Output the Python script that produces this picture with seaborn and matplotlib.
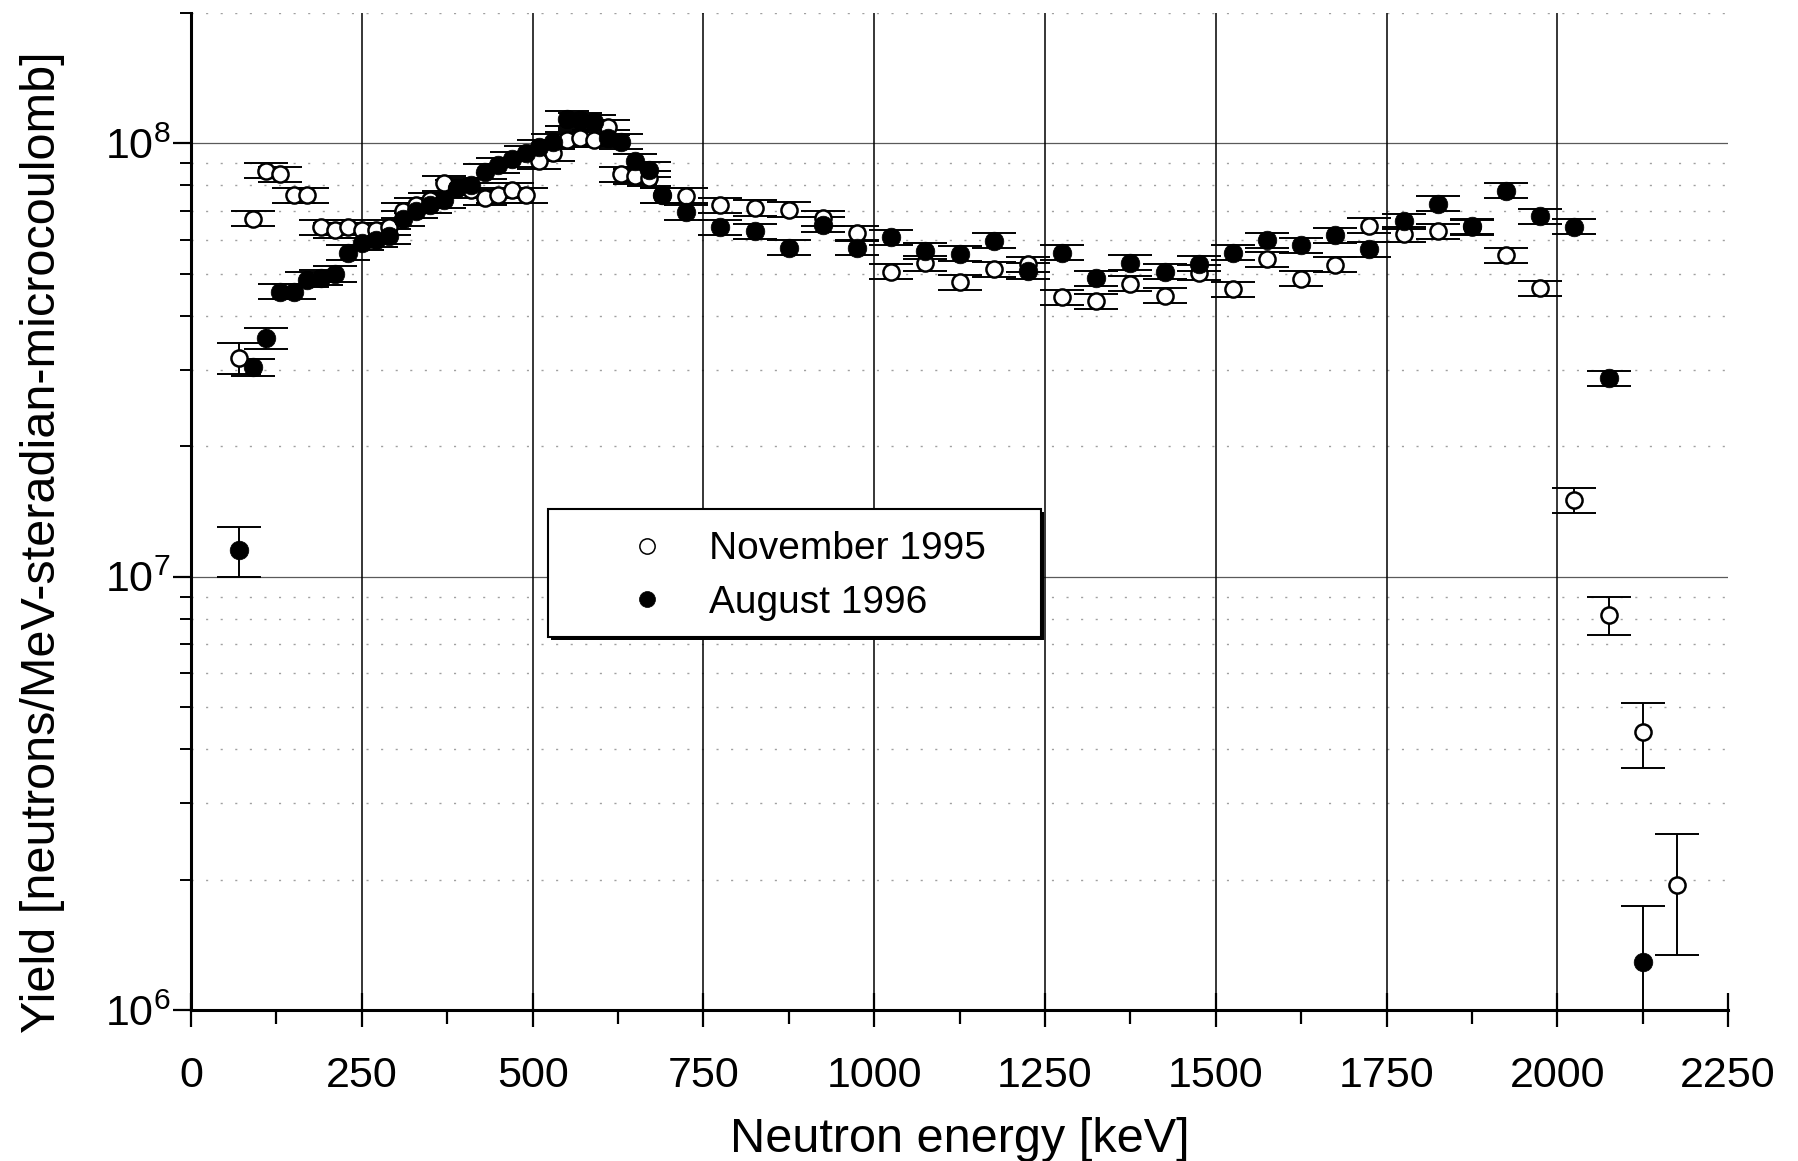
import matplotlib
matplotlib.use("Agg")
import matplotlib.pyplot as plt
import numpy as np
import pandas as pd
import seaborn as sns
from matplotlib.lines import Line2D
from matplotlib.patches import Rectangle
from matplotlib.ticker import LogLocator, MultipleLocator, NullFormatter

# ---- measured neutron yield spectra ----
nov_energy = [70, 90, 110, 130, 150, 170, 190, 210, 230, 250, 270, 290, 310, 330,
              350, 370, 390, 410, 430, 450, 470, 490, 510, 530, 550, 570, 590, 610,
              630, 650, 670, 690,
              725, 775, 825, 875, 925, 975, 1025, 1075, 1125, 1175, 1225, 1275,
              1325, 1375, 1425, 1475, 1525, 1575, 1625, 1675, 1725, 1775, 1825,
              1875, 1925, 1975, 2025, 2075, 2125, 2175]
nov_yield = [3.2e7, 6.7e7, 8.65e7, 8.5e7, 7.6e7, 7.6e7, 6.4e7, 6.3e7, 6.4e7, 6.3e7,
             6.3e7, 6.4e7, 7.0e7, 7.2e7, 7.4e7, 8.1e7, 7.9e7, 7.8e7, 7.5e7, 7.6e7,
             7.8e7, 7.6e7, 9.1e7, 9.5e7, 1.02e8, 1.03e8, 1.02e8, 1.09e8, 8.5e7,
             8.4e7, 8.3e7, 7.6e7,
             7.57e7, 7.2e7, 7.1e7, 7.03e7, 6.73e7, 6.2e7, 5.06e7, 5.3e7, 4.78e7,
             5.13e7, 5.27e7, 4.41e7, 4.33e7, 4.75e7, 4.45e7, 5.03e7, 4.61e7,
             5.41e7, 4.87e7, 5.25e7, 6.46e7, 6.17e7, 6.28e7, 6.4e7, 5.53e7,
             4.64e7, 1.5e7, 8.15e6, 4.37e6, 1.94e6]
nov_err_pct = [8, 4, 4, 4, 4, 4, 4, 4, 4, 4, 4, 4, 4, 4, 4, 4, 4, 4, 4, 4, 4, 4,
               4, 4, 4, 4, 4, 4, 4, 4, 4, 4,
               4, 4, 4, 4, 4, 4, 4, 4, 4, 4, 4, 4, 4, 4, 4, 4, 4, 4, 4, 4, 4, 4,
               4, 4, 4, 4, 6.7, 10, 17, 31]

aug_energy = [70, 90, 110, 130, 150, 170, 190, 210, 230, 250, 270, 290, 310, 330,
              350, 370, 390, 410, 430, 450, 470, 490, 510, 530, 550, 570, 590, 610,
              630, 650, 670, 690,
              725, 775, 825, 875, 925, 975, 1025, 1075, 1125, 1175, 1225, 1275,
              1325, 1375, 1425, 1475, 1525, 1575, 1625, 1675, 1725, 1775, 1825,
              1875, 1925, 1975, 2025, 2075, 2125]
aug_yield = [1.15e7, 3.04e7, 3.55e7, 4.55e7, 4.55e7, 4.85e7, 4.9e7, 5.0e7, 5.6e7,
             5.9e7, 6.0e7, 6.1e7, 6.7e7, 7.0e7, 7.2e7, 7.4e7, 7.9e7, 8.0e7, 8.6e7,
             8.9e7, 9.2e7, 9.5e7, 9.8e7, 1.01e8, 1.14e8, 1.13e8, 1.12e8, 1.03e8,
             1.01e8, 9.1e7, 8.7e7, 7.6e7,
             6.93e7, 6.4e7, 6.27e7, 5.75e7, 6.49e7, 5.75e7, 6.07e7, 5.65e7, 5.57e7,
             5.96e7, 5.08e7, 5.6e7, 4.89e7, 5.31e7, 5.06e7, 5.28e7, 5.6e7, 5.98e7,
             5.83e7, 6.15e7, 5.7e7, 6.62e7, 7.26e7, 6.45e7, 7.78e7, 6.8e7, 6.42e7,
             2.87e7, 1.29e6]
aug_err_pct = [13, 4.5, 5.5, 4, 4, 4, 4, 4, 4, 4, 4, 4, 4, 4, 4, 4, 4, 4, 4, 4, 4,
               4, 4, 4, 4, 4, 4, 4, 4, 4, 4, 4,
               4, 4, 4, 4, 4, 4, 4, 4, 4, 4, 4, 4, 4, 4, 4, 4, 4, 4, 4, 4, 4, 4,
               4, 4, 4, 4, 4, 3.8, 35]

series_labels = ["November 1995", "August 1996"]
grid_energies = [250, 500, 750, 1000, 1250, 1500, 1750, 2000]

sns.set_theme(style="white")
plt.rcParams["font.family"] = ["Liberation Sans", "DejaVu Sans"]
plt.rcParams["mathtext.fontset"] = "custom"
plt.rcParams["mathtext.rm"] = "Liberation Sans"
plt.rcParams["mathtext.it"] = "Liberation Sans:italic"
plt.rcParams["mathtext.bf"] = "Liberation Sans:bold"

nov = pd.DataFrame({"energy": nov_energy, "yield": nov_yield})
nov["err"] = nov["yield"] * np.asarray(nov_err_pct) / 100.0
aug = pd.DataFrame({"energy": aug_energy, "yield": aug_yield})
aug["err"] = aug["yield"] * np.asarray(aug_err_pct) / 100.0

fig = plt.figure(figsize=(17.99, 11.61), dpi=100)
fig.patch.set_facecolor("white")
ax = fig.add_axes([0.1062, 0.1301, 0.8544, 0.8587])
ax.set_facecolor("white")
ax.set_yscale("log")

# error bars with wide caps, drawn underneath the markers
for df in (nov, aug):
    ax.errorbar(df["energy"], df["yield"], yerr=df["err"], fmt="none",
                ecolor="black", elinewidth=1.4, capsize=15.5, capthick=1.4,
                zorder=2)

sns.scatterplot(data=nov, x="energy", y="yield", ax=ax, marker="o", s=135,
                facecolor="white", edgecolor="black", linewidth=1.8,
                zorder=3, legend=False)
sns.scatterplot(data=aug, x="energy", y="yield", ax=ax, marker="o", s=180,
                facecolor="black", edgecolor="black", linewidth=0.5,
                zorder=4, legend=False)

ax.set_xlim(0, 2250)
ax.set_ylim(1e6, 2e8)

# axes, ticks and grid
ax.xaxis.set_major_locator(MultipleLocator(250))
ax.xaxis.set_minor_locator(MultipleLocator(125))
ax.yaxis.set_major_locator(LogLocator(base=10, numticks=10))
ax.yaxis.set_minor_locator(LogLocator(base=10, subs=np.arange(2, 10), numticks=10))
ax.yaxis.set_minor_formatter(NullFormatter())

ax.tick_params(which="both", bottom=True, left=True, top=False, right=False,
               color="black", labelcolor="black")
ax.tick_params(axis="x", which="major", direction="inout", length=24, width=1.6,
               pad=21, labelsize=31)
ax.tick_params(axis="x", which="minor", direction="out", length=10, width=1.6)
ax.tick_params(axis="y", which="major", direction="out", length=13, width=1.6,
               pad=2, labelsize=31)
ax.tick_params(axis="y", which="minor", direction="out", length=8, width=1.4)

for side in ("top", "right"):
    ax.spines[side].set_visible(False)
for side in ("left", "bottom"):
    ax.spines[side].set_color("black")
    ax.spines[side].set_linewidth(2.2)

ax.grid(False)
for e in grid_energies:
    ax.axvline(e, color="black", linewidth=1.1, zorder=0.6)
ax.grid(True, which="major", axis="y", color="#5a5a5a", linewidth=0.9)
ax.grid(True, which="minor", axis="y", color="#a0a0a0", linewidth=1.0,
        linestyle=(0, (1.5, 9)))
ax.set_axisbelow(True)

ax.set_xlabel("Neutron energy [keV]", fontsize=35, color="black")
ax.set_ylabel("Yield [neutrons/MeV-steradian-microcoulomb]", fontsize=35,
              color="black")
ax.xaxis.set_label_coords(0.5, -0.107)
ax.yaxis.set_label_coords(-0.082, 0.469)

# legend box with a dark drop shadow
box_x, box_y, box_w, box_h = 0.2323, 0.3741, 0.3207, 0.1284
ax.add_patch(Rectangle((box_x + 0.002, box_y - 0.003), box_w, box_h,
                       transform=ax.transAxes, facecolor="black",
                       edgecolor="black", linewidth=0, zorder=6))
ax.add_patch(Rectangle((box_x, box_y), box_w, box_h, transform=ax.transAxes,
                       facecolor="white", edgecolor="black", linewidth=1.5,
                       zorder=7))

handles = [
    Line2D([], [], linestyle="none", marker="o", markersize=11.0,
           markerfacecolor="white", markeredgecolor="black", markeredgewidth=1.1),
    Line2D([], [], linestyle="none", marker="o", markersize=11.5,
           markerfacecolor="black", markeredgecolor="black", markeredgewidth=0.5),
]
leg = ax.legend(handles, series_labels, loc="upper left",
                bbox_to_anchor=(0.2712, 0.480), frameon=False, borderpad=0,
                borderaxespad=0, handlelength=2.0, handletextpad=0.6,
                labelspacing=0.45, fontsize=28)
leg.set_zorder(8)
for t in leg.get_texts():
    t.set_color("black")

fig.savefig("out.png", dpi=100, facecolor="white")
